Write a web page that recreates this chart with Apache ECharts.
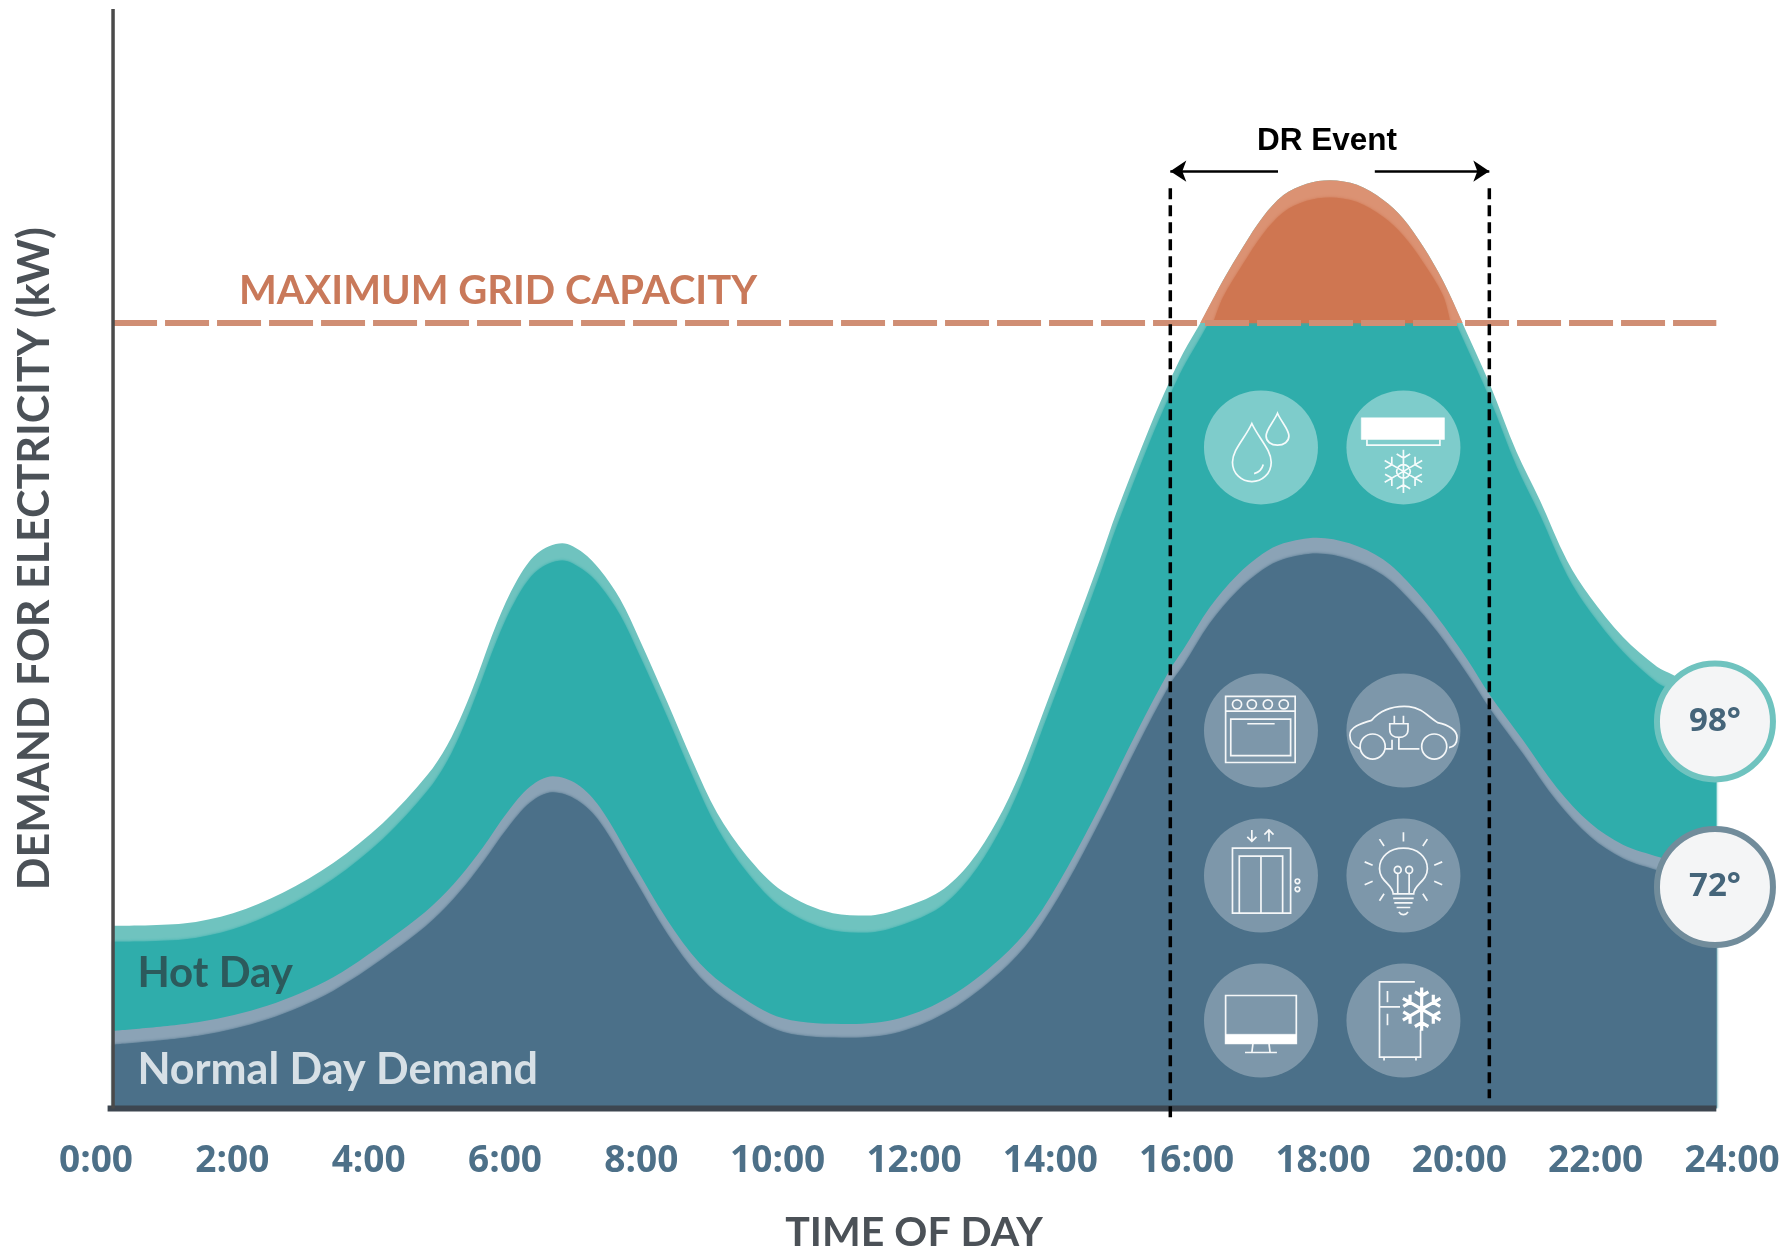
<!DOCTYPE html>
<html><head><meta charset="utf-8">
<style>html,body{margin:0;padding:0;background:#fff}#c{width:1790px;height:1251px}</style>
<script src="https://cdn.jsdelivr.net/npm/echarts@6/dist/echarts.min.js"></script>
</head><body><div id="c"></div>
<script>
// ---- data (hour of day, demand in kW-scale units) ----
const hotEdge = [[0.25,160],[1.28,162],[2.01,171],[2.74,189],[3.48,215],[4.21,250],[4.86,292],[5.15,318],[5.39,348],[5.59,378],[5.88,425],[6.17,462],[6.47,486],[6.84,495],[7.14,487],[7.39,472],[7.69,446],[7.98,410],[8.38,356],[8.76,303],[9.11,259],[9.55,221],[10.08,190],[10.81,171],[11.31,169],[11.79,175],[12.38,190],[12.82,215],[13.22,252],[13.55,293],[13.89,346],[14.33,416],[14.73,481],[14.97,522],[15.46,597],[15.75,637],[15.95,662],[16.22,690],[16.53,725],[16.83,755],[17.12,781],[17.42,800],[17.76,810],[18.10,813],[18.50,809],[18.88,796],[19.17,780],[19.47,755],[19.76,725],[20.03,690],[20.45,634],[20.84,575],[21.18,533],[21.58,480],[21.92,448],[22.40,413],[22.90,387],[23.13,380],[23.77,360]];
const hotDay = [[0.25,146],[1.28,148],[2.01,157],[2.74,175],[3.48,201],[4.21,236],[4.86,278],[5.15,304],[5.39,334],[5.59,364],[5.88,410],[6.17,447],[6.47,471],[6.84,480],[7.14,472],[7.39,458],[7.69,432],[7.98,396],[8.38,343],[8.76,290],[9.11,246],[9.55,207],[10.08,175],[10.81,156],[11.31,154],[11.79,160],[12.38,176],[12.82,202],[13.22,239],[13.55,280],[13.89,333],[14.33,403],[14.73,468],[14.97,509],[15.46,584],[15.75,624],[15.95,649],[16.22,677],[16.53,710],[16.83,740],[17.12,766],[17.42,785],[17.76,795],[18.10,798],[18.50,794],[18.88,781],[19.17,765],[19.47,741],[19.76,712],[20.03,677],[20.45,621],[20.84,562],[21.18,520],[21.58,467],[21.92,435],[22.40,400],[22.90,373],[23.13,366],[23.77,346]];
const peakEdge = [[16.20,688],[16.53,725],[16.83,755],[17.12,781],[17.42,800],[17.76,810],[18.10,813],[18.50,809],[18.88,796],[19.17,780],[19.47,755],[19.76,725],[20.05,688]];
const peakFill = [[16.39,688],[16.53,710],[16.83,740],[17.12,766],[17.42,785],[17.76,795],[18.10,798],[18.50,794],[18.88,781],[19.17,765],[19.47,741],[19.76,712],[19.87,688]];
const normalEdge = [[0.25,68],[1.53,76],[2.51,90],[3.48,115],[4.46,155],[4.94,178],[5.34,203],[5.68,229],[6.03,259],[6.37,282],[6.70,291],[7.06,284],[7.39,264],[7.88,215],[8.38,165],[8.86,127],[9.34,103],[10.08,79],[11.06,74],[11.79,79],[12.53,98],[13.26,131],[13.74,162],[14.24,210],[14.73,265],[15.28,331],[15.75,384],[15.95,402],[16.34,439],[16.74,467],[17.12,486],[17.42,495],[17.91,500],[18.39,495],[18.88,481],[19.28,459],[19.67,431],[20.11,394],[20.45,362],[20.93,323],[21.43,281],[21.92,250],[22.40,231],[22.94,220],[23.77,205]];
const normalDay = [[0.25,56],[1.53,64],[2.51,78],[3.48,103],[4.46,142],[4.94,165],[5.34,190],[5.68,216],[6.03,245],[6.37,268],[6.70,277],[7.06,270],[7.39,251],[7.88,203],[8.38,153],[8.86,115],[9.34,91],[10.08,67],[11.06,62],[11.79,67],[12.53,86],[13.26,119],[13.74,150],[14.24,197],[14.73,252],[15.28,318],[15.75,371],[15.95,388],[16.34,425],[16.74,453],[17.12,472],[17.42,481],[17.91,486],[18.39,481],[18.88,467],[19.28,445],[19.67,418],[20.11,381],[20.45,350],[20.93,311],[21.43,269],[21.92,238],[22.40,219],[22.94,208],[23.77,193]];
const gridCapacity = [[0.25,688],[23.77,688]];
const xAxisLine = [[0.17,0],[23.77,0]];
const yAxisLine = [[0.25,0],[0.25,963]];
const eventStart = [[15.76,806],[15.76,-9]];
const eventEnd = [[20.44,806],[20.44,9]];
const arrowY = 821;
const arrowLeft = [17.34,15.76];
const arrowRight = [18.76,20.44];
const hours = [0,2,4,6,8,10,12,14,16,18,20,22,24];
const tempBadges = [{value:[23.75,339],text:'98°',ring:'#6fc3bf'},{value:[23.75,194],text:'72°',ring:'#718c9b'}];
const iconCols = [17.09,19.18];
const iconRows = [579,331,204,77];

// ---- icon outlines in a 100x100 box ----
const A='M0 0M100 100';
const c=(x,y,r)=>`M${x-r} ${y}A${r} ${r} 0 1 0 ${x+r} ${y}A${r} ${r} 0 1 0 ${x-r} ${y}Z`;
function snow(cx,cy,r){let s='';for(let i=0;i<6;i++){const a=i*Math.PI/3-Math.PI/2,ux=Math.cos(a),uy=Math.sin(a);
  const ex=cx+ux*r,ey=cy+uy*r,mx=cx+ux*r*.62,my=cy+uy*r*.62;
  s+=`M${cx} ${cy}L${ex} ${ey}`;
  for(const d of [.6,-.6]){const b=a+d*1.75;s+=`M${mx} ${my}L${mx+Math.cos(b)*r*.36} ${my+Math.sin(b)*r*.36}`;}}
  return s;}
const icons={
 drops:{s:'M42 29C36 42 25 52 25 63C25 73 33 80 42 80C51 80 59 73 59 63C59 52 48 42 42 29ZM64.5 20C61 28 54.5 34 54.5 40C54.5 45 59 48 64.5 48C70 48 74.5 45 74.5 40C74.5 34 68 28 64.5 20ZM44 73C48 72 51 69 52 65'},
 ac:{f:'M13 24H86V43H13Z',s:'M18 43V48H82V43'+snow(50,71,19)+c(50,71,6)},
 oven:{s:'M19 20H80V78H19ZM19 33H80M23.5 40H76V72H23.5ZM38 44H62'+c(29,27,4)+c(42,27,4)+c(56,27,4)+c(70,27,4)},
 car:{s:'M12 66C6 64 3 59 3 54C3 47 12 44 22 41C30 32 42 28 55 29C66 30 72 38 80 43C90 45 97 50 97 56C97 61 95 64 90 65M34 66H40V58M57 66H64'+c(23,64,11)+c(77,64,11)+'M42 44V37M50 44V37M38 44H54V49C54 54 50 56 46 56C42 56 38 54 38 49ZM46 56V66H62'},
 lift:{s:'M25 83V26H76V83ZM31 83V33H69V83M50 33V83M42 10V20M38 16L42 20L46 16M57 20V10M53 14L57 10L61 14'+c(82,55,2)+c(82,62,2)},
 bulb:{s:'M41 66C41 58 29 55 29 44C29 33 38 26 50 26C62 26 71 33 71 44C71 55 59 58 59 66ZM41 70H59M42 74H58M44 78H56M46 82C48 85 52 85 54 82M45 66V48M55 66V48M50 12V20M29 18L33 24M71 18L67 24M16 38L23 41M84 38L77 41M16 58L23 55M84 58L77 55M29 72L33 66M71 72L67 66'+c(45,45,3)+c(55,45,3)},
 tv:{f:'M19 62H81V70H19Z',s:'M19 28H81V70H19ZM43 70L42 78M57 70L58 78M36 78H64'},
 fridge:{s:'M60 16H29V82H65V58M29 38H47M36 24V34M36 44V54M33 82V85M61 82V85',t:snow(66,40,19)}
};
const iconOrder=['drops','ac','oven','car','lift','bulb','tv','fridge'];
const iconData=[];
iconRows.forEach((y,r)=>iconCols.forEach((x,k)=>iconData.push({pos:[x,y],icon:icons[iconOrder[r*2+k]],upper:r===0})));

const area=(name,data,color,extra)=>Object.assign({name,type:'line',data,smooth:.33,showSymbol:false,symbol:'none',silent:true,
  lineStyle:{width:0},itemStyle:{color},areaStyle:{color,opacity:1}},extra||{});
const soft=(color,origin)=>({areaStyle:Object.assign({color,opacity:1,shadowBlur:3,shadowColor:color},origin!=null?{origin}:{})});
const rule=(data,color,width,dash,extra)=>Object.assign({type:'line',data,symbol:'none',silent:true,clip:false,itemStyle:{color},
  lineStyle:{color,width,type:dash||'solid',cap:'butt'}},extra||{});
const note=(x,y,text,color,size,family,align)=>({type:'scatter',silent:true,clip:false,symbolSize:1,itemStyle:{color:'rgba(0,0,0,0)',opacity:1},
  data:[[x,y]],label:{show:true,position:align==='center'?'inside':'right',distance:0,formatter:text,color,fontSize:size,fontFamily:family,fontWeight:'bold',textBorderWidth:0}});

const series=[
 area('Hot Day edge',hotEdge,'#6fc3bf'),
 area('Hot Day',hotDay,'#2fadab',soft('#2fadab')),
 area('Peak edge',peakEdge,'#db9273',{areaStyle:{color:'#db9273',opacity:1,origin:688}}),
 area('Peak',peakFill,'#cf7651',soft('#cf7651',688)),
 area('Normal edge',normalEdge,'#8ba3b6'),
 area('Normal Day Demand',normalDay,'#4b7089',soft('#4b7089')),
 rule(gridCapacity,'#d08e74',6,[44,8]),
 rule(xAxisLine,'#3d4650',6),
 rule(yAxisLine,'#4a4a4a',3.5),
 {type:'scatter',silent:true,clip:false,symbol:'circle',symbolSize:114,data:iconData.map(d=>({value:d.pos,itemStyle:{opacity:1,color:d.upper?'rgba(255,255,255,.38)':'rgba(255,255,255,.28)'}}))},
 {type:'scatter',silent:true,clip:false,symbolKeepAspect:true,symbolSize:114,itemStyle:{opacity:1,color:'rgba(0,0,0,0)',borderColor:'rgba(255,255,255,.92)',borderWidth:1.7},
  data:iconData.map(d=>({value:d.pos,symbol:'path://'+A+d.icon.s}))},
 {type:'scatter',silent:true,clip:false,symbolKeepAspect:true,symbolSize:114,itemStyle:{opacity:1,color:'#fff',borderColor:'#fff',borderWidth:.5},
  data:iconData.filter(d=>d.icon.f).map(d=>({value:d.pos,symbol:'path://'+A+d.icon.f}))},
 {type:'scatter',silent:true,clip:false,symbolKeepAspect:true,symbolSize:114,itemStyle:{opacity:1,color:'#fff',borderColor:'#fff',borderWidth:3.2},
  data:iconData.filter(d=>d.icon.t).map(d=>({value:d.pos,symbol:'path://'+A+d.icon.t}))},
 rule(eventStart,'#000',3.5,[11,6]),
 rule(eventEnd,'#000',3.5,[11,6]),
 {type:'line',data:[],silent:true,markLine:{silent:true,animation:false,symbol:['none','arrow'],symbolSize:[16,16],label:{show:false},lineStyle:{color:'#000',width:2.5,type:'solid'},
  data:[[{coord:[arrowLeft[0],arrowY]},{coord:[arrowLeft[1],arrowY]}],[{coord:[arrowRight[0],arrowY]},{coord:[arrowRight[1],arrowY]}]]}},
 {type:'scatter',silent:true,clip:false,symbol:'circle',symbolSize:116,
  data:tempBadges.map(b=>({value:b.value,itemStyle:{opacity:1,color:'#f4f5f6',borderColor:b.ring,borderWidth:6},
   label:{show:true,position:'inside',formatter:b.text,color:'#45657a',fontSize:33,fontWeight:'bold',fontFamily:'"Open Sans"',textBorderWidth:0}}))},
 note(2.09,716,'MAXIMUM GRID CAPACITY','#c9795a',40,'Lato'),
 note(0.60,118,'Hot Day','#2c5a5c',42,'Lato'),
 note(0.60,34,'Normal Day Demand','#d7e0e6',43,'Lato'),
 note(18.06,847,'DR Event','#000',31.5,'"Liberation Sans"','center')
];
series.forEach((s,i)=>{s.z=i+2;});
const chart=echarts.init(document.getElementById('c'),null,{renderer:'canvas'});
chart.setOption({
 animation:false,backgroundColor:'#fff',
 grid:{left:96,right:58,top:9,bottom:142.5,containLabel:false,outerBoundsMode:'none'},
 xAxis:{type:'value',min:0,max:24,interval:2,axisLine:{show:false},axisTick:{show:false},splitLine:{show:false},
  axisLabel:{show:true,margin:34,color:'#4d7088',fontSize:37,fontWeight:'bold',fontFamily:'"Open Sans"',hideOverlap:false,formatter:v=>hours.includes(v)?v+':00':''},
  name:'TIME OF DAY',nameLocation:'middle',nameGap:104,nameTextStyle:{color:'#4b5157',fontSize:41,fontWeight:'bold',fontFamily:'Lato'}},
 yAxis:{type:'value',min:0,max:963,axisLine:{show:false},axisTick:{show:false},axisLabel:{show:false},splitLine:{show:false},
  name:'DEMAND FOR ELECTRICITY (kW)',nameLocation:'middle',nameGap:39,nameTextStyle:{color:'#4b5157',fontSize:43,fontWeight:'bold',fontFamily:'Lato'}},
 series
});
</script></body></html>
